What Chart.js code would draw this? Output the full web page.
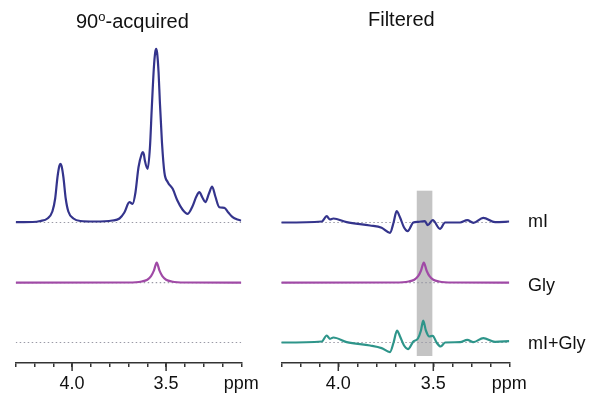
<!DOCTYPE html>
<html>
<head>
<meta charset="utf-8">
<script src="https://cdn.jsdelivr.net/npm/chart.js@4/dist/chart.umd.min.js"></script>
<style>
  html, body { margin: 0; padding: 0; background: #fff; }
  #wrap { position: relative; width: 602px; height: 403px; overflow: hidden; font-family: "Liberation Sans", Arial, sans-serif; color: #111; }
  .cv { position: absolute; top: 0; }
  .title { position: absolute; font-size: 20px; line-height: 24px; white-space: nowrap; }
  .title sup { font-size: 13px; vertical-align: 7px; line-height: 0; }
  .lab { position: absolute; font-size: 18px; line-height: 20px; white-space: nowrap; }
</style>
</head>
<body>
<div id="wrap">
  <canvas id="left" class="cv" width="270" height="403" style="left:0px"></canvas>
  <canvas id="right" class="cv" width="270" height="403" style="left:270px"></canvas>
  <div class="title" style="left:76px;top:9px">90<sup>o</sup>-acquired</div>
  <div class="title" style="left:368px;top:7px">Filtered</div>
  <div class="lab" style="left:528px;top:211px">mI</div>
  <div class="lab" style="left:528px;top:275px">Gly</div>
  <div class="lab" style="left:528px;top:333px">mI+Gly</div>
</div>
<script>
// ---------- data (ppm positions and intensities) ----------
const acqMIppm = [4.30, 4.21, 4.169, 4.131, 4.105, 4.090, 4.078, 4.068, 4.062, 4.056, 4.046, 4.034, 4.020, 3.993, 3.956, 3.881, 3.786, 3.748, 3.722, 3.695, 3.678, 3.663, 3.647, 3.630, 3.624, 3.618, 3.613, 3.598, 3.586, 3.576, 3.565, 3.558, 3.553, 3.548, 3.540, 3.533, 3.522, 3.509, 3.491, 3.465, 3.440, 3.413, 3.385, 3.360, 3.339, 3.323, 3.307, 3.291, 3.272, 3.255, 3.238, 3.217, 3.190, 3.169, 3.146, 3.121, 3.10];
const acqMIint = [0.3, 0.5, 1.5, 4, 11, 24, 45, 56.5, 58.7, 56.5, 45, 24, 11, 4, 1.5, 1, 2, 4, 10, 20.3, 18.7, 30, 55, 68.5, 70.3, 68, 62, 53.7, 75, 115, 155, 170, 173.7, 170, 150, 120, 80, 50, 40.3, 33.7, 22, 13, 8.7, 16, 26, 30.3, 25, 20.3, 29, 36, 26, 15.3, 14.7, 10, 5.3, 3, 2];

const glyPpm = [4.30, 3.70, 3.63, 3.60, 3.58, 3.565, 3.55, 3.535, 3.52, 3.50, 3.47, 3.40, 3.10];
const glyInt = [0, 0.2, 1.2, 3, 6.5, 12, 20, 12, 6.5, 3, 1.2, 0.2, 0];

const filtMIppm = [4.30, 4.087, 4.061, 4.044, 4.026, 3.956, 3.833, 3.772, 3.728, 3.709, 3.693, 3.675, 3.654, 3.635, 3.605, 3.579, 3.544, 3.529, 3.503, 3.465, 3.438, 3.359, 3.321, 3.289, 3.237, 3.175, 3.10];
const filtMIint = [0, 1, 6.3, 3, 4, 0.3, -3, -5.3, -10.3, 0, 11.3, 5, -5, -8.7, 0, 0.7, 1.3, -2.7, 2.3, -6.3, 0, 0, 2.3, -0.3, 4.7, 0.3, 1];

const filtSumPpm = [4.30, 4.087, 4.061, 4.044, 4.026, 3.956, 3.833, 3.772, 3.728, 3.709, 3.691, 3.675, 3.654, 3.633, 3.605, 3.581, 3.565, 3.553, 3.539, 3.521, 3.503, 3.483, 3.461, 3.438, 3.359, 3.321, 3.289, 3.237, 3.175, 3.10];
const filtSumInt = [0, 1, 7, 3.7, 5, 0.4, -3, -5.6, -9.6, 0, 12, 6, -3, -6.6, 1, 4, 12, 22, 12, 6, 6.7, 0, -4, 0, 0.3, 2.7, 0.4, 4.4, 0.7, 1.4];

const labeledTicks = [4.0, 3.5];
const unitTick = 3.1;
const ppmRange = [3.1, 4.3];
const bandPpm = [3.587, 3.505];
const bandInt = [7, 172.3];

// ---------- layout / style ----------
const ROW_OFFSET = [140.5, 80.3, 20.5];
const Y_MAX = 363;
const AXIS_H = 40;
const BLUE = '#34348c', PURPLE = '#a04aa6', TEAL = '#2e958a', DOT = '#9a9aa6', AXIS = '#333';

function pts(ppm, vals, off) { return ppm.map((p, i) => ({ x: p, y: vals[i] + off })); }
function trace(ppm, vals, off, color) {
  return { data: pts(ppm, vals, off), borderColor: color, borderWidth: 2.2, pointRadius: 0,
           cubicInterpolationMode: 'monotone', fill: false, order: 0 };
}
function baseline(off) {
  return { data: [{ x: ppmRange[1], y: off }, { x: ppmRange[0], y: off }], borderColor: DOT,
           borderWidth: 1.2, borderDash: [1.5, 2.5], pointRadius: 0, fill: false, order: 5 };
}

const majorTicks = {
  id: 'majorTicks',
  afterDraw(chart) {
    const s = chart.scales.x, ctx = chart.ctx;
    ctx.save(); ctx.strokeStyle = AXIS; ctx.lineWidth = 1.5;
    labeledTicks.forEach(v => {
      const x = s.getPixelForValue(v);
      ctx.beginPath(); ctx.moveTo(x, s.top); ctx.lineTo(x, s.top + 8); ctx.stroke();
    });
    ctx.restore();
  }
};
const band = {
  id: 'band',
  beforeDatasetsDraw(chart) {
    const xs = chart.scales.x, ys = chart.scales.y, ctx = chart.ctx;
    const x1 = xs.getPixelForValue(bandPpm[0]), x2 = xs.getPixelForValue(bandPpm[1]);
    const y1 = ys.getPixelForValue(bandInt[1]), y2 = ys.getPixelForValue(bandInt[0]);
    ctx.save(); ctx.fillStyle = '#c4c4c4'; ctx.fillRect(x1, y1, x2 - x1, y2 - y1); ctx.restore();
  }
};

function options(padL, padR) {
  return {
    responsive: false, animation: false,
    layout: { padding: { left: padL, right: padR, top: 0, bottom: 0 } },
    plugins: { legend: { display: false }, tooltip: { enabled: false } },
    scales: {
      x: {
        type: 'linear', reverse: true, min: ppmRange[0], max: ppmRange[1],
        afterFit: s => { s.height = AXIS_H; },
        border: { display: true, color: AXIS, width: 1.5 },
        grid: { drawOnChartArea: false, drawTicks: true, tickLength: 4, color: AXIS, lineWidth: 1.5 },
        ticks: {
          stepSize: 0.1, autoSkip: false, maxRotation: 0, minRotation: 0, padding: 6, color: '#111',
          font: { family: 'Liberation Sans', size: 18 },
          callback: v => {
            if (labeledTicks.some(t => Math.abs(t - v) < 1e-6)) return v.toFixed(1);
            if (Math.abs(v - unitTick) < 1e-6) return 'ppm';
            return '';
          }
        }
      },
      y: { display: false, min: 0, max: Y_MAX }
    }
  };
}

new Chart(document.getElementById('left'), {
  type: 'line',
  data: { datasets: [
    trace(acqMIppm, acqMIint, ROW_OFFSET[0], BLUE),
    trace(glyPpm, glyInt, ROW_OFFSET[1], PURPLE),
    baseline(ROW_OFFSET[0]), baseline(ROW_OFFSET[1]), baseline(ROW_OFFSET[2])
  ] },
  options: options(15.7, 28.7),
  plugins: [majorTicks]
});

new Chart(document.getElementById('right'), {
  type: 'line',
  data: { datasets: [
    trace(filtMIppm, filtMIint, ROW_OFFSET[0], BLUE),
    trace(glyPpm, glyInt, ROW_OFFSET[1], PURPLE),
    trace(filtSumPpm, filtSumInt, ROW_OFFSET[2], TEAL),
    baseline(ROW_OFFSET[0]), baseline(ROW_OFFSET[1]), baseline(ROW_OFFSET[2])
  ] },
  options: options(11.3, 30.7),
  plugins: [majorTicks, band]
});
</script>
</body>
</html>
